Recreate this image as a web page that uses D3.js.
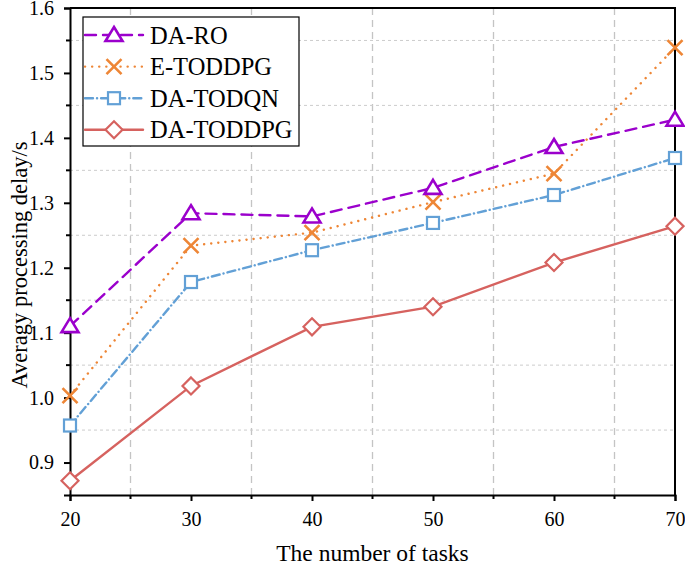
<!DOCTYPE html>
<html>
<head>
<meta charset="utf-8">
<script src="https://cdn.jsdelivr.net/npm/d3@7"></script>
<style>
  body { margin: 0; background: #fff; }
  svg text { font-family: "Liberation Serif", "Times New Roman", serif; fill: #000; }
</style>
</head>
<body>
<div id="chart"></div>
<script>
// data
const tasks = [20, 30, 40, 50, 60, 70];
const daRo = [1.110, 1.284, 1.279, 1.323, 1.386, 1.428];
const eTodPg = [1.003, 1.234, 1.254, 1.301, 1.345, 1.539];
const daTodqn = [0.957, 1.178, 1.227, 1.269, 1.312, 1.369];
const daToddpg = [0.872, 1.018, 1.109, 1.140, 1.208, 1.264];
const seriesNames = ['DA-RO', 'E-TODDPG', 'DA-TODQN', 'DA-TODDPG'];
const xTicks = [20, 30, 40, 50, 60, 70];
const yTicks = [0.9, 1.0, 1.1, 1.2, 1.3, 1.4, 1.5, 1.6];

const width = 685;
const height = 566;
const margin = { top: 8, right: 10, bottom: 71, left: 70 };

const svg = d3.select('#chart')
    .append('svg')
    .attr('width', width)
    .attr('height', height);

const x = d3.scaleLinear()
    .domain([20, 70])
    .range([margin.left, width - margin.right]);

const y = d3.scaleLinear()
    .domain([0.85, 1.6])
    .range([height - margin.bottom, margin.top]);

const minorX = d3.range(25, 70, 10);
const minorY = d3.range(0.95, 1.6, 0.1);

// grid
svg.append('g')
    .selectAll('line')
    .data(minorX)
    .enter()
    .append('line')
    .attr('x1', (d) => x(d))
    .attr('x2', (d) => x(d))
    .attr('y1', y.range()[0])
    .attr('y2', y.range()[1])
    .style('stroke', '#c4c4c4')
    .style('stroke-width', 1.3)
    .style('stroke-dasharray', '7,5');

svg.append('g')
    .selectAll('line')
    .data(minorY)
    .enter()
    .append('line')
    .attr('x1', x.range()[0])
    .attr('x2', x.range()[1])
    .attr('y1', (d) => y(d))
    .attr('y2', (d) => y(d))
    .style('stroke', '#cccccc')
    .style('stroke-width', 1)
    .style('stroke-dasharray', '3,3');

// axes
const xAxis = svg.append('g')
    .attr('transform', 'translate(0,' + y.range()[0] + ')')
    .call(d3.axisBottom(x).tickValues(xTicks).tickFormat(d3.format('d')).tickSize(6).tickPadding(11));

const yAxis = svg.append('g')
    .attr('transform', 'translate(' + x.range()[0] + ',0)')
    .call(d3.axisLeft(y).tickValues(yTicks).tickFormat(d3.format('.1f')).tickSize(6).tickPadding(10));

[xAxis, yAxis].forEach((g) => {
    g.attr('font-family', null).attr('font-size', null);
    g.select('.domain').style('stroke', '#000').style('stroke-width', 2);
    g.selectAll('.tick line').style('stroke', '#000').style('stroke-width', 2);
    g.selectAll('.tick text')
        .style('font-family', '"Liberation Serif", serif')
        .style('font-size', '20px')
        .style('fill', '#000');
});

// minor ticks
svg.append('g')
    .selectAll('line')
    .data(minorX)
    .enter()
    .append('line')
    .attr('x1', (d) => x(d))
    .attr('x2', (d) => x(d))
    .attr('y1', y.range()[0])
    .attr('y2', y.range()[0] + 4)
    .style('stroke', '#000')
    .style('stroke-width', 2);

svg.append('g')
    .selectAll('line')
    .data(minorY)
    .enter()
    .append('line')
    .attr('x1', x.range()[0] - 4)
    .attr('x2', x.range()[0])
    .attr('y1', (d) => y(d))
    .attr('y2', (d) => y(d))
    .style('stroke', '#000')
    .style('stroke-width', 2);

// frame top / right
svg.append('path')
    .attr('d', 'M' + x.range()[0] + ',' + y.range()[1] + 'H' + x.range()[1] + 'V' + y.range()[0])
    .style('fill', 'none')
    .style('stroke', '#000')
    .style('stroke-width', 2);

// axis titles
svg.append('text')
    .attr('x', (x.range()[0] + x.range()[1]) / 2)
    .attr('y', 561)
    .attr('text-anchor', 'middle')
    .style('font-size', '23.5px')
    .text('The number of tasks');

svg.append('text')
    .attr('transform', 'translate(27,265) rotate(-90)')
    .attr('text-anchor', 'middle')
    .style('font-size', '22.5px')
    .text('Averagy processing delay/s');

// series
const series = [
    { name: seriesNames[0], values: daRo, color: '#9B00CC', dash: '11,7', marker: 'triangle' },
    { name: seriesNames[1], values: eTodPg, color: '#EE8636', dash: '0.1,7', marker: 'cross' },
    { name: seriesNames[2], values: daTodqn, color: '#62A0D6', dash: '8,4,0.1,4', marker: 'square' },
    { name: seriesNames[3], values: daToddpg, color: '#D6625F', dash: null, marker: 'diamond' },
];

const line = d3.line()
    .x((d, i) => x(tasks[i]))
    .y((d) => y(d));

function drawMarker(g, type, color) {
    if (type === 'triangle') {
        g.append('path').attr('d', 'M0,-8L8.5,6L-8.5,6Z')
            .style('fill', '#fff').style('stroke', color).style('stroke-width', 2.6);
    } else if (type === 'cross') {
        g.append('path').attr('d', 'M-7.5,-7.5L7.5,7.5M-7.5,7.5L7.5,-7.5')
            .style('fill', 'none').style('stroke', color).style('stroke-width', 2.6);
    } else if (type === 'square') {
        g.append('rect').attr('x', -6).attr('y', -6).attr('width', 12).attr('height', 12)
            .style('fill', '#fff').style('stroke', color).style('stroke-width', 2.2);
    } else {
        g.append('path').attr('d', 'M0,-8.5L8.5,0L0,8.5L-8.5,0Z')
            .style('fill', '#fff').style('stroke', color).style('stroke-width', 2.2);
    }
}

series.slice().reverse().forEach((s) => {
    svg.append('path')
        .datum(s.values)
        .attr('d', line)
        .style('fill', 'none')
        .style('stroke', s.color)
        .style('stroke-width', 2.4)
        .style('stroke-linecap', 'round')
        .style('stroke-dasharray', s.dash);

    s.values.forEach((v, i) => {
        const g = svg.append('g').attr('transform', 'translate(' + x(tasks[i]) + ',' + y(v) + ')');
        drawMarker(g, s.marker, s.color);
    });
});

// legend
const legend = svg.append('g').attr('transform', 'translate(83,17)');
legend.append('rect')
    .attr('width', 216)
    .attr('height', 129)
    .style('fill', '#fff')
    .style('stroke', '#000')
    .style('stroke-width', 1.2);

series.forEach((s, i) => {
    const cy = 18 + i * 31.6;
    legend.append('line')
        .attr('x1', 2).attr('x2', 60)
        .attr('y1', cy).attr('y2', cy)
        .style('stroke', s.color)
        .style('stroke-width', 2.4)
        .style('stroke-linecap', 'round')
        .style('stroke-dasharray', s.dash);
    const g = legend.append('g').attr('transform', 'translate(31,' + cy + ')');
    drawMarker(g, s.marker, s.color);
    legend.append('text')
        .attr('x', 67)
        .attr('y', cy + 8.5)
        .style('font-size', '24.5px')
        .text(s.name);
});
</script>
</body>
</html>
